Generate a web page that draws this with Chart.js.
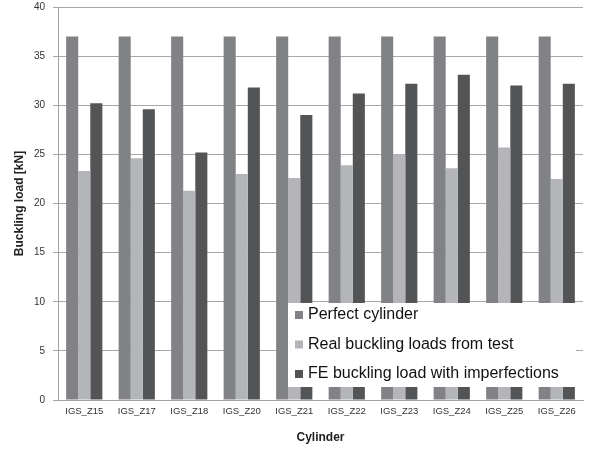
<!DOCTYPE html>
<html>
<head>
<meta charset="utf-8">
<script src="https://cdn.jsdelivr.net/npm/chart.js@4"></script>
<style>
  html, body { margin:0; padding:0; background:#fff; }
  #wrap { width:603px; height:452px; }
</style>
</head>
<body>
<div id="wrap"><canvas id="grafico" width="603" height="452"></canvas></div>
<script>
// ----------------------
// DADOS
// ----------------------
const cilindros = ['IGS_Z15','IGS_Z17','IGS_Z18','IGS_Z20','IGS_Z21','IGS_Z22','IGS_Z23','IGS_Z24','IGS_Z25','IGS_Z26'];
const perfeito = [37, 37, 37, 37, 37, 37, 37, 37, 37, 37];
const ensaio = [23.3, 24.6, 21.3, 23.0, 22.6, 23.9, 25.0, 23.6, 25.7, 22.5];
const elementosFinitos = [30.2, 29.6, 25.2, 31.8, 29.0, 31.2, 32.2, 33.1, 32.0, 32.2];
const yTicks = [0, 5, 10, 15, 20, 25, 30, 35, 40];

const cores = ['#818285', '#b4b5b8', '#535456'];

// ----------------------
// LEGENDA DENTRO DO GRAFICO
// ----------------------
const legendaInterna = {
  id: 'legendaInterna',
  afterDatasetsDraw(chart){
    const ctx = chart.ctx;
    const bx = 288, by = 303, bw = 288, bh = 84;
    ctx.save();
    ctx.fillStyle = '#fff';
    ctx.fillRect(bx, by, bw, bh);
    ctx.font = '16px "Liberation Sans", Arial, sans-serif';
    ctx.textBaseline = 'middle';
    chart.data.datasets.forEach((ds, i) => {
      const y = by + 12 + i * 29.5;
      ctx.fillStyle = ds.backgroundColor;
      ctx.fillRect(bx + 7, y - 4, 8, 8);
      ctx.fillStyle = '#111';
      ctx.fillText(ds.label, bx + 20, y);
    });
    ctx.restore();
  }
};

new Chart(document.getElementById('grafico').getContext('2d'), {
  type: 'bar',
  data: {
    labels: cilindros,
    datasets: [
      { label: 'Perfect cylinder', data: perfeito, backgroundColor: cores[0] },
      { label: 'Real buckling loads from test', data: ensaio, backgroundColor: cores[1] },
      { label: 'FE buckling load with imperfections', data: elementosFinitos, backgroundColor: cores[2] }
    ]
  },
  options: {
    responsive: false,
    animation: false,
    devicePixelRatio: 1,
    layout: { padding: { top: 7, right: 20, left: 0, bottom: 0 } },
    datasets: { bar: { categoryPercentage: 0.69, barPercentage: 1.0 } },
    plugins: { legend: { display: false }, tooltip: { enabled: false } },
    scales: {
      x: {
        grid: { display: false, drawTicks: false },
        border: { color: '#a0a0a0' },
        ticks: { color: '#333', font: { family: '"Liberation Sans", Arial', size: 9.5 }, padding: 6, maxRotation: 0 },
        title: { display: true, text: 'Cylinder', color: '#222', font: { family: '"Liberation Sans", Arial', size: 12, weight: 'bold' }, padding: { top: 2, bottom: 7 } },
        afterFit: s => { s.height = 52; }
      },
      y: {
        min: 0, max: 40,
        afterBuildTicks: s => { s.ticks = yTicks.map(v => ({ value: v })); },
        grid: { color: '#a8a8a8', drawTicks: true, tickLength: 5 },
        border: { color: '#a0a0a0' },
        ticks: { color: '#333', font: { family: '"Liberation Sans", Arial', size: 10 }, padding: 8 },
        title: { display: true, text: 'Buckling load [kN]', color: '#222', font: { family: '"Liberation Sans", Arial', size: 12, weight: 'bold' }, padding: { top: 12, bottom: 0 } },
        afterFit: s => { s.width = 58; s.paddingTop = 0; s.paddingBottom = 0; }
      }
    }
  },
  plugins: [legendaInterna]
});
</script>
</body>
</html>
